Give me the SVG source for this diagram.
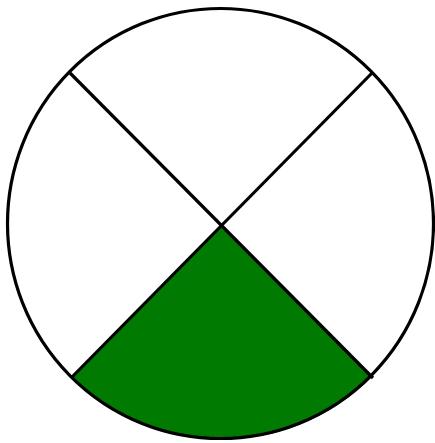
<svg xmlns="http://www.w3.org/2000/svg" width="435" height="443" viewBox="0 0 435 443">
<style>
.ln{stroke:#000;stroke-width:3.2;fill:none;stroke-linecap:butt}
</style>
<rect width="435" height="443" fill="#fff"/>
<g id="sector-bottom">
<path d="M221.5,225.5 L72,377 A213,215 0 0 0 372,377 Z" fill="#007a00"/>
</g>
<g id="outline">
<ellipse cx="220.5" cy="223.5" rx="213" ry="215" class="ln"/>
</g>
<g id="connectors">
<line x1="70" y1="73" x2="373" y2="378" class="ln"/>
<line x1="373" y1="72" x2="71" y2="378" class="ln"/>
</g>
</svg>
